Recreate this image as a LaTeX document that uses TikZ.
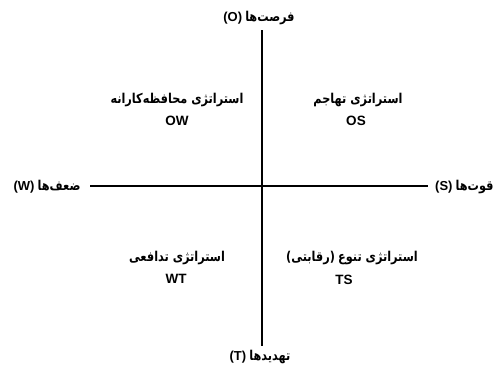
\documentclass[tikz,border=0pt]{standalone}
\usepackage{fontspec}
\usepackage{graphicx}
\setmainfont{Liberation Sans}
\newfontfamily\fafont[Script=Arabic]{DejaVu Sans}
\TeXXeTstate=1
\newcommand{\fa}[1]{\scalebox{1}[1.2]{\fafont\bfseries\beginR #1\endR}}
\newcommand{\la}[1]{{\fontsize{13}{15}\selectfont\bfseries #1}}
\begin{document}
\begin{tikzpicture}[x=1pt,y=-1pt,
  lbl/.style={inner sep=0pt, font=\fontsize{11.3}{13}\selectfont},
  code/.style={inner sep=0pt, font=\fontsize{13.5}{15}\selectfont\bfseries},
  axis/.style={draw=black, line width=1.2pt}]
\useasboundingbox (0,0) rectangle (499,367);
\coordinate (vt) at (262,30);
\coordinate (vb) at (262,346);
\coordinate (hl) at (90,186);
\coordinate (hr) at (428,186);
\draw[axis] (vt) -- (vb);
\draw[axis] (hl) -- (hr);
\node[lbl] (O) at (259,18) {\la{(O)} \fa{فرصت‌ها}};
\node[lbl] (T) at (260,357) {\la{(T)} \fa{تهدیدها}};
\node[lbl] (W) at (47,187) {\la{(W)} \fa{ضعف‌ها}};
\node[lbl,anchor=west] (S) at (435,187) {\la{(S)} \fa{قوت‌ها}};
\node[lbl] (owfa) at (177,100) {\fa{استراتژی محافظه‌کارانه}};
\node[code] (ow) at (177,121) {OW};
\node[lbl] (osfa) at (358,100) {\fa{استراتژی تهاجم}};
\node[code] (os) at (356,121) {OS};
\node[lbl] (wtfa) at (177,258) {\fa{استراتژی تدافعی}};
\node[code] (wt) at (176,279) {WT};
\node[lbl] (tsfa) at (352,258) {\fa{)}\fa{رقابتی}\fa{(} \fa{استراتژی تنوع}};
\node[code] (ts) at (344,280) {TS};
\end{tikzpicture}
\end{document}
